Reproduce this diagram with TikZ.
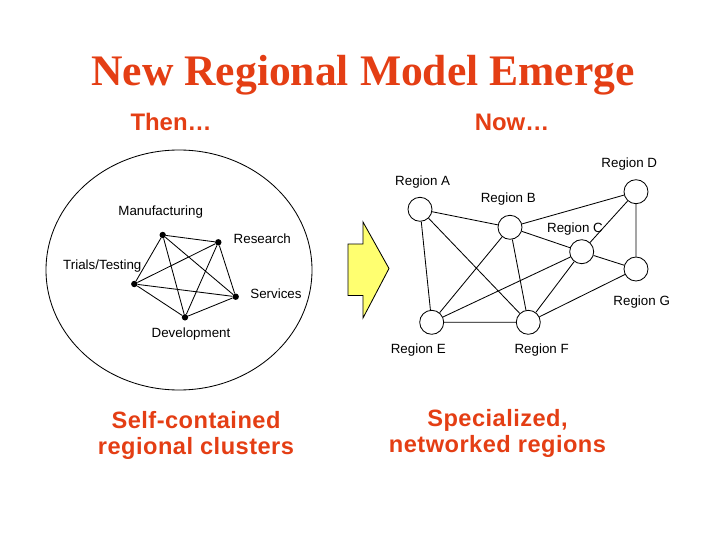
\documentclass[tikz,border=0pt]{standalone}
\usepackage{fontspec}
\setmainfont{Liberation Serif}
\setsansfont{Liberation Sans}
\newfontfamily\capfont[LetterSpace=2]{Liberation Sans}
\definecolor{orangered}{RGB}{228,62,20}
\definecolor{arrowyellow}{RGB}{255,255,112}

\begin{document}
\begin{tikzpicture}[x=0.25mm,y=-0.25mm,
  dot/.style={circle,fill,inner sep=0pt,minimum size=1.6mm},
  region/.style={circle,draw,line width=0.6pt,minimum size=6mm,inner sep=0pt},
  lbl/.style={font=\sffamily\fontsize{9.5}{11}\selectfont,inner sep=0pt},
  head/.style={font=\sffamily\bfseries\fontsize{17}{20}\selectfont,text=orangered,inner sep=0pt,anchor=base},
  caption/.style={font=\capfont\bfseries\fontsize{16.8}{18.5}\selectfont,text=orangered,align=center,inner sep=0pt}]
\useasboundingbox (0,0) rectangle (720,540);
\node[anchor=base,inner sep=0pt,text=orangered,font=\rmfamily\bfseries\fontsize{31}{36}\selectfont] (title) at (363,85) {New Regional Model Emerge};
\node[head] (then) at (171,130) {Then\dots};
\node[head] (now) at (512,130) {Now\dots};
% then: one region doing everything
\draw[line width=0.6pt] (179,270) ellipse [x radius=33.25mm, y radius=30mm];
\node[dot] (man) at (162.7,235) {}; \node[dot] (res) at (218.3,242.3) {}; \node[dot] (tri) at (134.3,284) {};
\node[dot] (ser) at (235.7,296.7) {}; \node[dot] (dev) at (185,317.3) {};
\draw[line width=0.6pt] (man)--(res) (man)--(tri) (man)--(ser) (man)--(dev) (res)--(tri) (res)--(ser) (res)--(dev) (tri)--(ser) (tri)--(dev) (ser)--(dev);
\node[lbl] (manlbl) at (160.7,211.7) {Manufacturing}; \node[lbl] (reslbl) at (262.3,238.3) {Research};
\node[lbl] (trilbl) at (102.3,265.7) {Trials/Testing}; \node[lbl] (serlbl) at (276,293.3) {Services};
\node[lbl] (devlbl) at (191,334) {Development};
% shift arrow
\draw[line width=0.6pt,fill=arrowyellow] (348,244)--(363,244)--(363,222)--(389,268.5)--(363,318)--(363,295.5)--(348,295.5)--cycle;
% now: networked regions
\node[region] (ra) at (420,209.3) {}; \node[region] (rb) at (510,227.3) {}; \node[region] (rc) at (581.7,251.7) {};
\node[region] (rd) at (636,191.7) {}; \node[region] (re) at (431.7,322.3) {}; \node[region] (rf) at (528.3,322.3) {};
\node[region] (rg) at (636,269) {};
\draw[line width=0.6pt] (ra)--(rb) (ra)--(re) (ra)--(rf) (rb)--(rd) (rb)--(rc) (rb)--(re) (rb)--(rf) (rc)--(rd) (rc)--(rg) (rc)--(re) (rc)--(rf) (rd)--(rg) (re)--(rf) (rf)--(rg);
\node[lbl] (lbla) at (422.7,182.3) {Region A}; \node[lbl] (lblb) at (508.3,199.3) {Region B};
\node[lbl] (lblc) at (575,229.3) {Region C}; \node[lbl] (lbld) at (629.3,164) {Region D};
\node[lbl] (lble) at (418.3,350) {Region E}; \node[lbl] (lblf) at (541.7,350) {Region F};
\node[lbl] (lblg) at (641.7,301.7) {Region G};
\node[caption] (selfc) at (196,435) {Self-contained\\regional clusters};
\node[caption] (spec) at (497.5,433.5) {Specialized,\\networked regions};
\end{tikzpicture}
\end{document}
